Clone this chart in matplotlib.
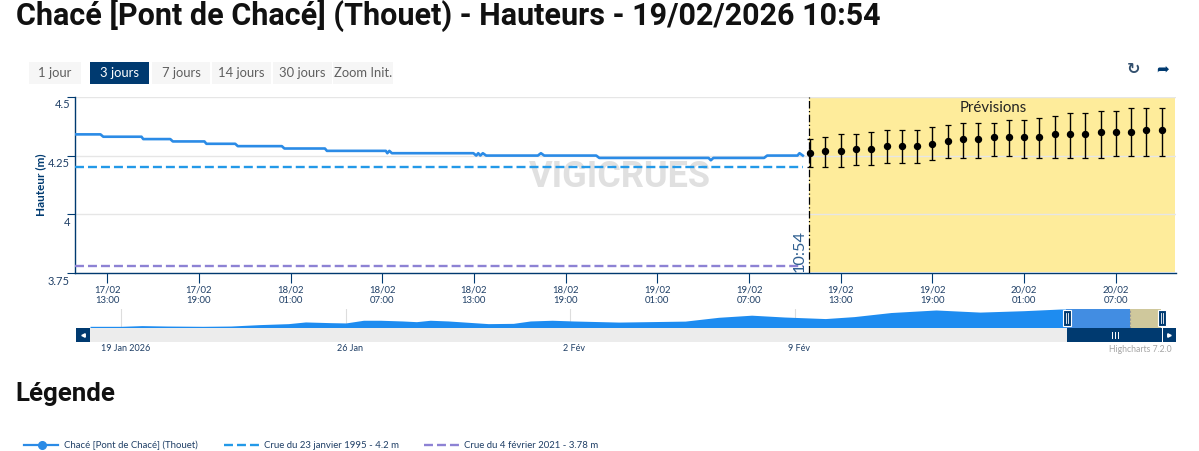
import datetime as dt
import matplotlib
matplotlib.use("Agg")
import matplotlib.pyplot as plt
import matplotlib.dates as mdates
from matplotlib.patches import Rectangle
from matplotlib.transforms import ScaledTranslation

W, H = 1199, 451
NAVY = "#003a70"
TXT = "#1f3f66"
LINE = "#2b8be6"
C1995 = "#2399e8"
C2021 = "#8d82d4"
DASH = (3.8, 1.7)

# ---------- data ----------
obs_times = ["02-17 10:54", "02-17 12:34", "02-17 12:45", "02-17 15:15", "02-17 15:22", "02-17 17:08",
             "02-17 17:18", "02-17 19:22", "02-17 19:30", "02-17 21:23", "02-17 21:33", "02-18 00:26",
             "02-18 00:36", "02-18 03:15", "02-18 03:23", "02-18 07:14", "02-18 07:20", "02-18 07:28",
             "02-18 07:38", "02-18 12:58", "02-18 13:09", "02-18 13:17", "02-18 13:25", "02-18 13:35",
             "02-18 13:48", "02-18 17:11", "02-18 17:23", "02-18 17:36", "02-18 21:00", "02-18 21:12",
             "02-19 04:21", "02-19 04:30", "02-19 04:40", "02-19 07:59", "02-19 08:11", "02-19 10:10",
             "02-19 10:18", "02-19 10:31"]
obs_values = [4.34, 4.34, 4.33, 4.33, 4.32, 4.32,
              4.31, 4.31, 4.30, 4.30, 4.29, 4.29,
              4.28, 4.28, 4.27, 4.27, 4.26, 4.27,
              4.26, 4.26, 4.25, 4.26, 4.25, 4.26,
              4.25, 4.25, 4.26, 4.25, 4.25, 4.24,
              4.24, 4.23, 4.24, 4.24, 4.25, 4.25,
              4.26, 4.25]
fc_times = ["02-19 11:00", "02-19 12:00", "02-19 13:00", "02-19 14:00", "02-19 15:00", "02-19 16:00",
            "02-19 17:00", "02-19 18:00", "02-19 19:00", "02-19 20:00", "02-19 21:00", "02-19 22:00",
            "02-19 23:00", "02-20 00:00", "02-20 01:00", "02-20 02:00", "02-20 03:00", "02-20 04:00",
            "02-20 05:00", "02-20 06:00", "02-20 07:00", "02-20 08:00", "02-20 09:00", "02-20 10:00"]
fc_median = [4.26, 4.27, 4.27, 4.28, 4.28, 4.29, 4.29, 4.29, 4.30, 4.31, 4.32, 4.32,
             4.33, 4.33, 4.33, 4.33, 4.34, 4.34, 4.34, 4.35, 4.35, 4.35, 4.36, 4.36]
fc_upper = [4.32, 4.33, 4.34, 4.34, 4.35, 4.36, 4.36, 4.36, 4.37, 4.38, 4.39, 4.39,
            4.39, 4.40, 4.40, 4.41, 4.42, 4.43, 4.43, 4.44, 4.44, 4.45, 4.45, 4.45]
fc_lower = [4.20, 4.20, 4.20, 4.21, 4.21, 4.22, 4.22, 4.22, 4.23, 4.24, 4.24, 4.24,
            4.25, 4.25, 4.24, 4.24, 4.24, 4.24, 4.24, 4.24, 4.25, 4.25, 4.25, 4.25]
crue_1995 = 4.2
crue_2021 = 3.78
y_ticks = [3.75, 4.0, 4.25, 4.5]
y_labels = ["3.75", "4", "4.25", "4.5"]

nav_days = [-0.98, 0, 0.64, 1.42, 2.54, 3.41, 4.31, 5.21, 5.74, 6.52, 7, 7.55, 8.08, 8.76, 9.2, 9.63,
            10.19, 11.44, 12.22, 12.75, 13.43, 14.08, 15.51, 17.58, 18.62, 19.65, 20.68, 21.95,
            22.85, 24, 25.4, 26.77, 28.14, 29.29, 29.94]
nav_values = [3.12, 3.12, 3.17, 3.14, 3.12, 3.14, 3.24, 3.31, 3.43, 3.38, 3.36, 3.55, 3.55, 3.50, 3.45, 3.55,
              3.50, 3.31, 3.33, 3.50, 3.55, 3.50, 3.42, 3.49, 3.76, 3.91, 3.78, 3.67, 3.81,
              4.10, 4.28, 4.13, 4.23, 4.35, 4.34]
buttons = ["1 jour", "3 jours", "7 jours", "14 jours", "30 jours", "Zoom Init."]
button_edges = [(29, 81), (90, 149), (152, 210), (212, 271), (273, 332), (333, 393)]
legend_labels = ["Chacé [Pont de Chacé] (Thouet)", "Crue du 23 janvier 1995 - 4.2 m", "Crue du 4 février 2021 - 3.78 m"]
title = "Chacé [Pont de Chacé] (Thouet) - Hauteurs - 19/02/2026 10:54"


def when(s):
    return dt.datetime.strptime("2026-" + s, "%Y-%m-%d %H:%M")


def axes_px(x0, y0, x1, y1, **kw):
    return fig.add_axes([x0 / W, 1 - y1 / H, (x1 - x0) / W, (y1 - y0) / H], **kw)


plt.rcParams["font.family"] = ["Lato", "DejaVu Sans"]
fig = plt.figure(figsize=(W / 100, H / 100), dpi=100, facecolor="white")

# ---------- page chrome ----------
page = axes_px(0, 0, W, H)
page.set_xlim(0, W)
page.set_ylim(H, 0)
page.axis("off")
page.text(16, 15.5, title, fontsize=22, fontweight="bold", family="Roboto", color="#111111", va="center")
page.text(15, 394, "Légende", fontsize=18.6, fontweight="bold", family="Roboto", color="#111111", va="center")
for i, (lab, (x0, x1)) in enumerate(zip(buttons, button_edges)):
    active = i == 1
    page.add_patch(Rectangle((x0, 62), x1 - x0, 22, fc=NAVY if active else "#f6f6f6", ec="none"))
    page.text((x0 + x1) / 2, 73, lab, ha="center", va="center", fontsize=9.4,
              color="white" if active else "#5f5f5f")
page.text(1133, 69.5, "↻", family="DejaVu Sans", fontweight="bold", fontsize=11.5, ha="center", va="center", color="#33506e")
page.text(1163, 69.5, "➦", family="DejaVu Sans", fontsize=11, ha="center", va="center", color=NAVY)

# legend
ly = 445
page.plot([24, 58], [ly, ly], color=LINE, lw=1.6)
page.plot([42], [ly], "o", color=LINE, ms=5.5)
page.plot([224, 259], [ly, ly], color=C1995, lw=1.7, dashes=DASH)
page.plot([424, 459], [ly, ly], color=C2021, lw=1.7, dashes=DASH)
for lx, lab in zip([64, 264, 464], legend_labels):
    page.text(lx, ly + 0.5, lab, fontsize=6.9, color=TXT, va="center")
page.text(1172, 349, "Highcharts 7.2.0", fontsize=6.2, color="#a5a5a5", ha="right", va="center")

# navigator scrollbar
page.add_patch(Rectangle((90, 328), 977, 14, fc="#ececec", ec="none"))
page.add_patch(Rectangle((76, 328), 14, 14, fc=NAVY, ec="none"))
page.add_patch(Rectangle((1067, 328), 95, 14, fc=NAVY, ec="none"))
page.add_patch(Rectangle((1163, 328), 13, 14, fc=NAVY, ec="none"))
page.plot([83], [335], marker="<", ms=2.5, color="white")
page.plot([1169], [335], marker=">", ms=2.5, color="white")
for xx in (1112, 1115, 1118):
    page.plot([xx, xx], [332, 338], color="white", lw=0.7)

# ---------- main chart ----------
ax = axes_px(75, 96.7, 1175.5, 273.3, zorder=2)
ax.patch.set_alpha(0)
start = when("02-17 10:54")
end = when("02-20 10:54")
now = when("02-19 10:54")
ax.set_xlim(start, end)
ax.set_ylim(3.75, 4.5)
ax.axvspan(now, end, ymin=0.008, color="#feec9b", lw=0, zorder=0)
ax.set_yticks(y_ticks, y_labels)
ax.grid(axis="y", color="#e6e6e6", lw=1, zorder=1)
ax.set_axisbelow(True)
for s in ("top", "right"):
    ax.spines[s].set_visible(False)
for s in ("left", "bottom"):
    ax.spines[s].set_color(NAVY)
    ax.spines[s].set_linewidth(1)
ax.xaxis.set_major_locator(mdates.HourLocator(byhour=[1, 7, 13, 19]))
ax.xaxis.set_major_formatter(mdates.DateFormatter("%d/%m\n%H:%M"))
ax.tick_params(axis="x", length=7, color=NAVY, labelcolor=TXT, labelsize=6.9, pad=1.5, width=0.8)
ax.tick_params(axis="y", length=5.76, color=NAVY, labelcolor=TXT, labelsize=8, pad=-2.2, width=0.8)
for lab in ax.get_yticklabels():
    lab.set_va("top")
    lab.set_transform(lab.get_transform() + ScaledTranslation(0, -2 / 72, fig.dpi_scale_trans))
for lab in ax.get_xticklabels():
    lab.set_linespacing(1.3)
ax.set_ylabel("Hauteur (m)", fontsize=8.5, fontweight="bold", color=NAVY, labelpad=1.5)

fig_tr = fig.transFigure
ax.text(620 / W, 1 - 177 / H, "VIGICRUES", transform=fig_tr, fontsize=26, fontweight="bold", family="Roboto",
        color="#e0e0e0", ha="center", va="center", zorder=1.5)

ax.axvline(now, color="black", lw=0.9, dashes=(6, 2, 1, 2), zorder=4)
ax.plot([when(t) for t in obs_times], obs_values, color=LINE, lw=1.9, zorder=3)
line_end = when(obs_times[-1])
ax.plot([start, line_end], [crue_1995, crue_1995], color=C1995, lw=1.7, dashes=DASH, zorder=3)
ax.plot([start, line_end], [crue_2021, crue_2021], color=C2021, lw=1.7, dashes=DASH, zorder=3)
fx = [when(t) for t in fc_times]
ax.errorbar(fx, fc_median,
            yerr=[[m - l for m, l in zip(fc_median, fc_lower)], [u - m for m, u in zip(fc_median, fc_upper)]],
            fmt="o", color="black", ms=4.3, elinewidth=1, capsize=2.2, capthick=0.9, zorder=5)
ax.text(993 / W, 1 - 108 / H, "Prévisions", transform=fig_tr, fontsize=10.8, color="#222222", ha="center", va="center", zorder=6)
ax.text(now - dt.timedelta(minutes=36), 3.755, "10:54", rotation=90, fontsize=11.8, color="#2f5f90",
        ha="center", va="bottom", zorder=6)

# ---------- navigator ----------
nav = axes_px(90, 309, 1161, 328, zorder=3)
base = dt.datetime(2026, 1, 19)
nx = [base + dt.timedelta(days=d) for d in nav_days]
nav.set_xlim(base + dt.timedelta(days=-0.98), dt.datetime(2026, 2, 20, 10, 0))
nav.set_ylim(3.0, 4.35)
nav.fill_between(nx, nav_values, 3.0, color="#1e8cf0", lw=0)
nav.axvspan(start, now, color="#428de2", lw=0)
nav.axvspan(now, dt.datetime(2026, 2, 20, 10, 0), color="#cfc89c", lw=0)
nav.axvline(now, color="#999999", lw=0.8, ls=(0, (2, 1.5)))
nav.set_yticks([])
for s in nav.spines.values():
    s.set_visible(False)
grid_dates = [dt.datetime(2026, 1, 19), dt.datetime(2026, 1, 26), dt.datetime(2026, 2, 2), dt.datetime(2026, 2, 9)]
nav.set_xticks(grid_dates, ["19 Jan 2026", "26 Jan", "2 Fév", "9 Fév"])
for g in grid_dates:
    nav.axvline(g, color="#dddddd", lw=0.8, zorder=0.5)
nav.tick_params(axis="x", length=0, labelsize=6.5, labelcolor=TXT, pad=11.5)
for lab in nav.get_xticklabels():
    lab.set_transform(lab.get_transform() + ScaledTranslation(4 / 100, 0, fig.dpi_scale_trans))
for xx in (1066.5, 1162):
    page.add_patch(Rectangle((xx - 4, 310), 8, 15.5, fc=NAVY, ec="white", lw=0.8, zorder=8))
    page.plot([xx - 1, xx - 1], [313, 323], color="white", lw=0.6, zorder=9)
    page.plot([xx + 1, xx + 1], [313, 323], color="white", lw=0.6, zorder=9)
page.set_zorder(4)
page.patch.set_alpha(0)

fig.savefig("out.png", dpi=100)
